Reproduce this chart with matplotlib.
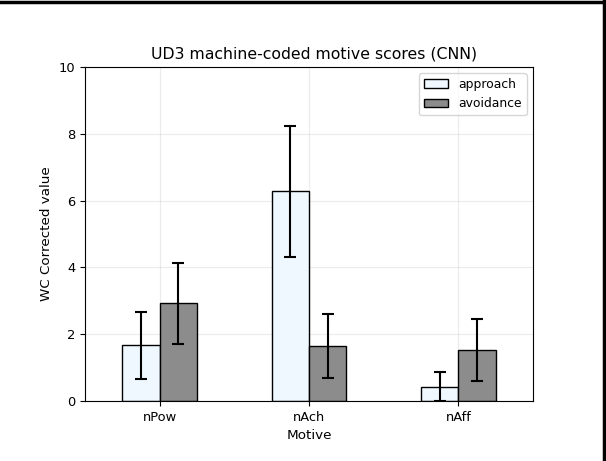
import pandas as pd
import matplotlib.pyplot as plt
from matplotlib.lines import Line2D

# Valores
motives = ["nPow", "nAch", "nAff"]
approach = [1.67, 6.28, 0.43]
avoidance = [2.92, 1.64, 1.54]
approach_err = [1.0, 1.96, 0.43]
avoidance_err = [1.21, 0.95, 0.93]

df = pd.DataFrame({"approach": approach, "avoidance": avoidance}, index=motives)
err = pd.DataFrame({"approach": approach_err, "avoidance": avoidance_err}, index=motives)

plt.rcParams["font.size"] = 9.4

fig = plt.figure(figsize=(6.06, 4.61), dpi=100)
ax = fig.add_axes([85 / 606, 60 / 461, 448 / 606, 334 / 461])
df.plot.bar(ax=ax, yerr=err, capsize=4, color=["aliceblue", "#8c8c8c"],
            edgecolor="black", linewidth=1, rot=0,
            error_kw=dict(ecolor="black", elinewidth=1.5, capthick=1.5))
ax.set_ylim(0, 10)
ax.set_title("UD3 machine-coded motive scores (CNN)", fontsize=11.3, x=0.511)
ax.set_xlabel("Motive", fontsize=9.7)
ax.set_ylabel("WC Corrected value", fontsize=9.7)
ax.grid(alpha=0.25)
ax.set_axisbelow(True)
ax.legend(loc="upper right", fontsize=8.9)

# moldura preta (topo e direita) como na imagem original
fig.add_artist(Line2D([0, 1], [0.9965, 0.9965], color="black", lw=2.5, transform=fig.transFigure))
fig.add_artist(Line2D([0.9975, 0.9975], [0, 1], color="black", lw=2.5, transform=fig.transFigure))

plt.savefig("out.png")
